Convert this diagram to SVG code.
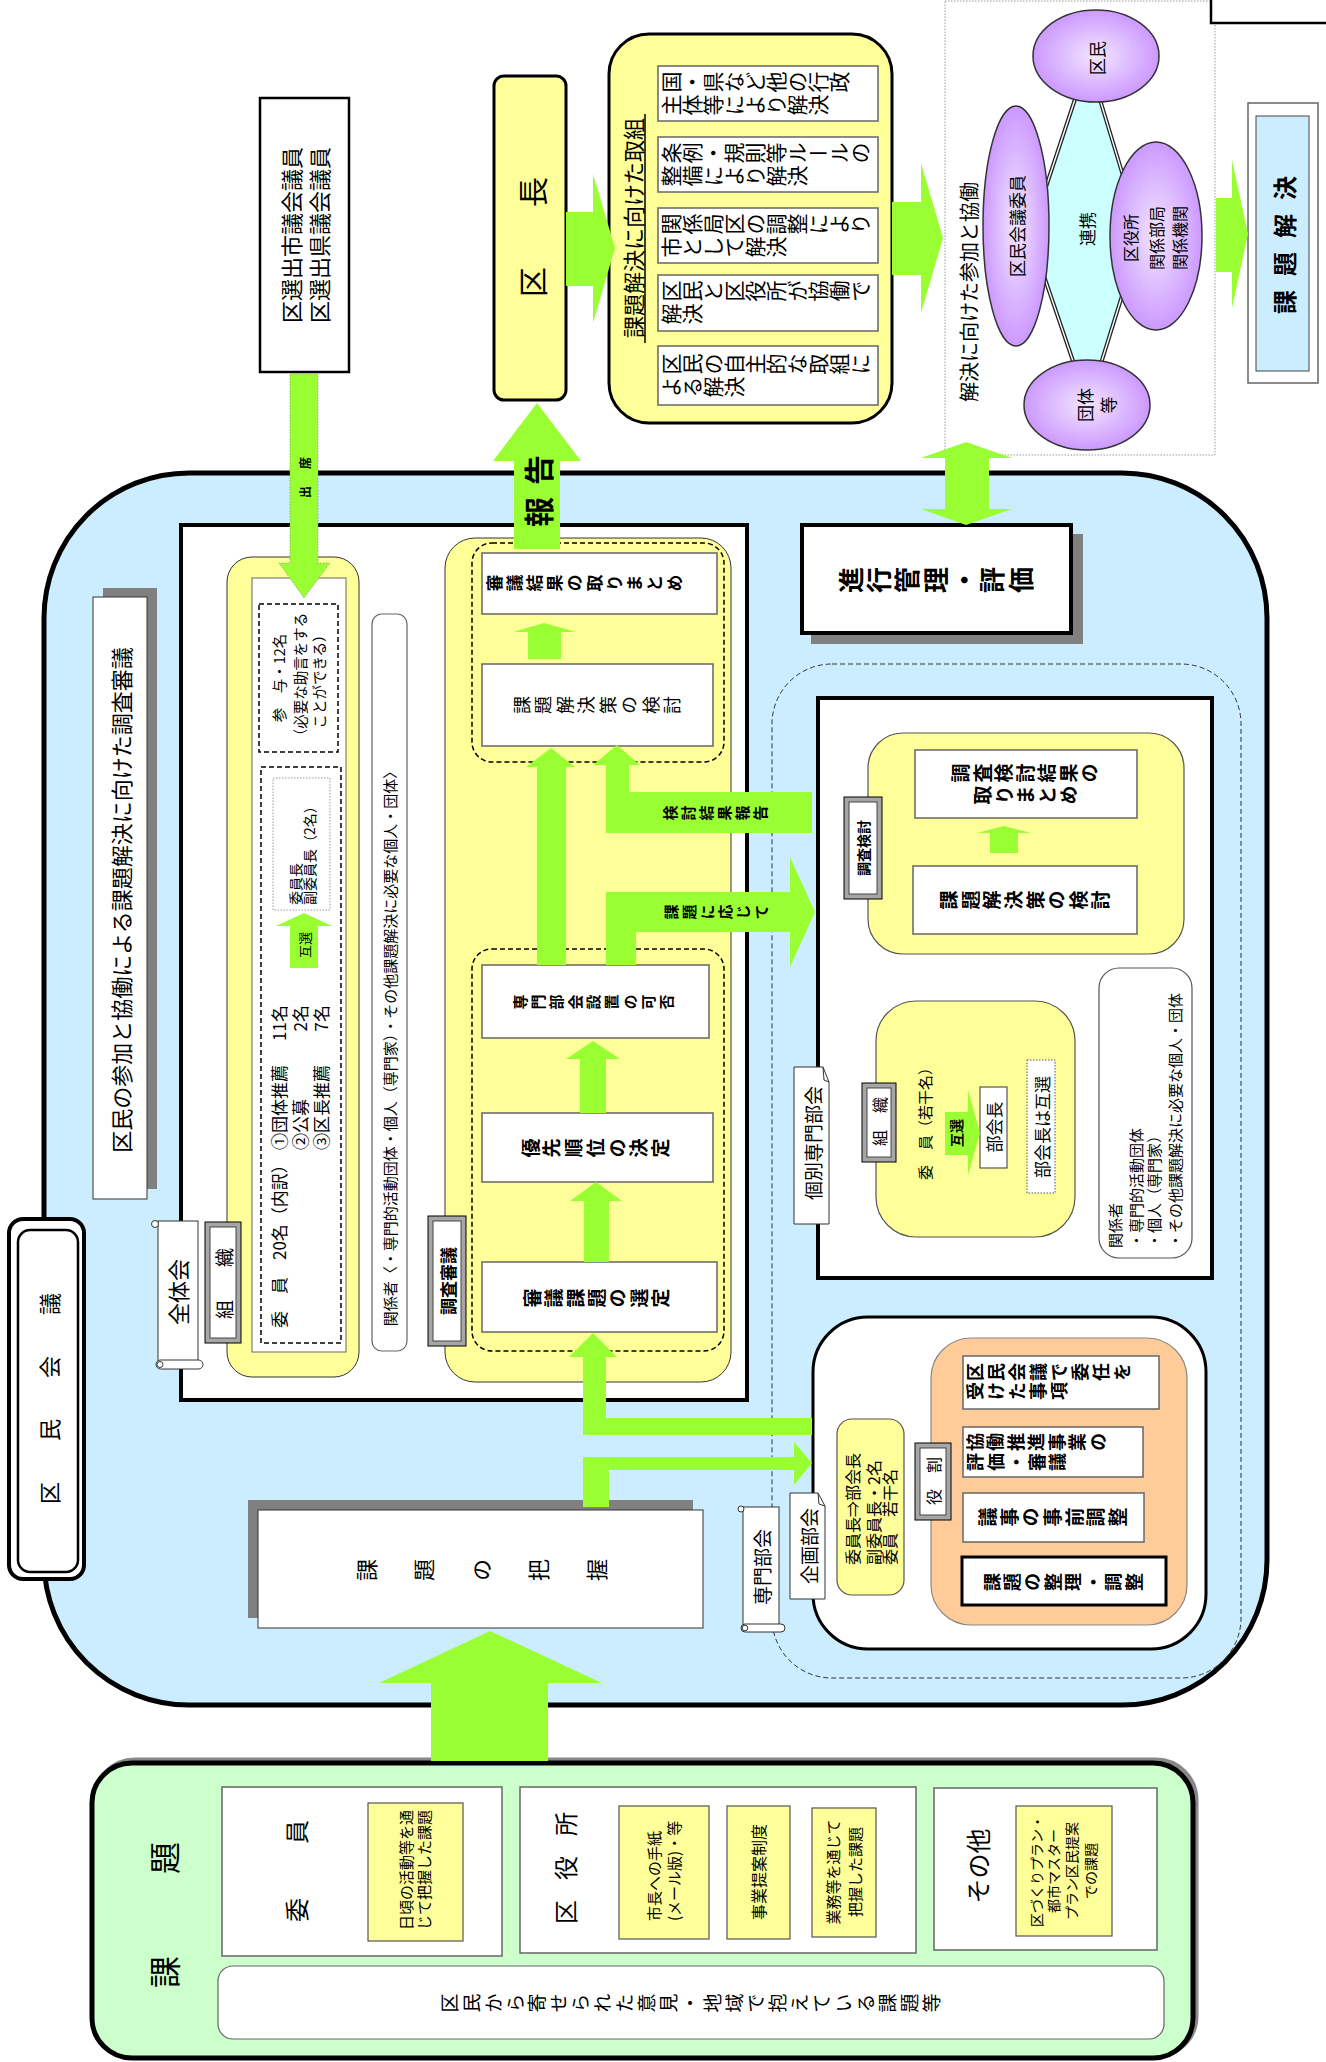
<svg xmlns="http://www.w3.org/2000/svg" width="1326" height="2062" viewBox="0 0 1326 2062">
<defs>
<style>
text{font-family:"Noto Sans CJK JP","Noto Sans CJK SC","Liberation Sans",sans-serif;fill:#000}
.a{text-anchor:middle;dominant-baseline:central}
.as{text-anchor:start;dominant-baseline:central}
.ae{text-anchor:end;dominant-baseline:central}
.b{writing-mode:vertical-rl;text-anchor:middle}
.bs{writing-mode:vertical-rl;text-anchor:start}
.bd{font-weight:bold}
.arrow{fill:#99FF33}
.wbox{fill:#fff;stroke:#666;stroke-width:1.5}
.ybox{fill:#FFFF99;stroke:#555;stroke-width:1.2}
.dash{fill:none;stroke:#000;stroke-width:1.5;stroke-dasharray:5 3}
.bevo{fill:#A6A6A6;stroke:#000;stroke-width:1}
.bevi{fill:#fff;stroke:#444;stroke-width:1}
.ell{fill:url(#pg);stroke:#333;stroke-width:1.5}
.scroll{fill:#fff;stroke:#333;stroke-width:1}
</style>
<radialGradient id="pg" cx="50%" cy="50%" r="50%">
<stop offset="0" stop-color="#F3E6FF"/>
<stop offset="1" stop-color="#CC99FF"/>
</radialGradient>
</defs>
<rect x="0" y="0" width="1326" height="2062" fill="#fff"/>

<!-- top row -->
<g id="n-giin">
<rect x="260" y="98" width="89" height="274" fill="#fff" stroke="#000" stroke-width="2.5"/>
<text class="a" font-size="22" transform="translate(304,235) rotate(-90)"><tspan x="0" y="-14">区選出市議会議員</tspan><tspan x="0" y="14">区選出県議会議員</tspan></text>
</g>
<g id="n-kucho">
<rect x="494" y="76" width="72" height="324" rx="10" fill="#FFFF99" stroke="#000" stroke-width="3"/>
<text class="a" font-size="30" transform="translate(531,237) rotate(-90)">区　　長</text>
</g>
<g id="n-torikumi">
<rect x="609" y="34" width="283" height="389" rx="40" fill="#FFFF99" stroke="#000" stroke-width="3"/>
<text class="a" font-size="22" transform="translate(632,228) rotate(-90)">課題解決に向けた取組</text>
<line x1="645" y1="343" x2="645" y2="114" stroke="#000" stroke-width="1.5"/>
<rect class="wbox" x="658" y="66" width="220" height="55"/>
<text class="bs" font-size="21" transform="translate(661,82) rotate(-90)"><tspan x="0" y="0">国・県など他の行政</tspan><tspan x="-23" y="0">主体等により解決</tspan></text>
<rect class="wbox" x="658" y="137" width="220" height="55"/>
<text class="bs" font-size="21" transform="translate(661,153) rotate(-90)"><tspan x="0" y="0">条例・規則等ルールの</tspan><tspan x="-23" y="0">整備により解決</tspan></text>
<rect class="wbox" x="658" y="208" width="220" height="55"/>
<text class="bs" font-size="21" transform="translate(661,224) rotate(-90)"><tspan x="0" y="0">関係局区の調整により</tspan><tspan x="-23" y="0">市として解決</tspan></text>
<rect class="wbox" x="658" y="275" width="220" height="56"/>
<text class="bs" font-size="21" transform="translate(661,291) rotate(-90)"><tspan x="0" y="0">区民と区役所が協働で</tspan><tspan x="-23" y="0">解決</tspan></text>
<rect class="wbox" x="658" y="346" width="220" height="59"/>
<text class="bs" font-size="21" transform="translate(661,364) rotate(-90)"><tspan x="0" y="0">区民の自主的な取組に</tspan><tspan x="-23" y="0">よる解決</tspan></text>
</g>
<g id="n-sanka">
<rect x="945" y="1" width="270" height="454" fill="#fff" stroke="#999" stroke-width="1" stroke-dasharray="1.5 1.5"/>
<text class="a" font-size="20" transform="translate(968,292) rotate(-90)">解決に向けた参加と協働</text>
<polygon points="1088,60 1030,235 1088,405 1141,235" fill="#CCFFFF" stroke="#222" stroke-width="4"/>
<polygon points="1088,60 1030,235 1088,405 1141,235" fill="none" stroke="#fff" stroke-width="1.4"/>
<ellipse class="ell" cx="1096" cy="56" rx="63" ry="46"/>
<ellipse class="ell" cx="1087" cy="405" rx="63" ry="45"/>
<ellipse class="ell" cx="1016" cy="226" rx="33" ry="120"/>
<ellipse class="ell" cx="1156" cy="236" rx="46" ry="94"/>
<text class="a" font-size="17" transform="translate(1096,58) rotate(-90)">区民</text>
<text class="a" font-size="17" transform="translate(1016,226) rotate(-90)">区民会議委員</text>
<text class="a" font-size="17" transform="translate(1086,229) rotate(-90)">連携</text>
<text class="a" font-size="16" transform="translate(1155,238) rotate(-90)"><tspan x="0" y="-25">区役所</tspan><tspan x="0" y="1">関係部局</tspan><tspan x="0" y="24">関係機関</tspan></text>
<text class="a" font-size="17" transform="translate(1095,405) rotate(-90)"><tspan x="0" y="-11">団体</tspan><tspan x="0" y="12">等</tspan></text>
</g>
<g id="n-kaiketsu">
<rect x="1248" y="103" width="70" height="280" fill="#fff" stroke="#666" stroke-width="1.5"/>
<rect x="1256" y="116" width="53" height="255" fill="#CCECFF" stroke="#444" stroke-width="1"/>
<text class="a bd" font-size="24" letter-spacing="14" transform="translate(1283,238) rotate(-90)">課題解決</text>
</g>
<g id="n-corner">
<rect x="1211" y="-20" width="130" height="43" fill="#fff" stroke="#000" stroke-width="2.5"/>
</g>

<!-- main container -->
<g id="n-kuminkaigi">
<rect x="44" y="473" width="1223" height="1232" rx="145" fill="#CCECFF" stroke="#000" stroke-width="5"/>
</g>
<g id="n-shingi-title">
<rect x="103" y="588" width="54" height="601" fill="#808080"/>
<rect x="93" y="597" width="54" height="602" fill="#fff" stroke="#333" stroke-width="1"/>
<text class="a" font-size="22" transform="translate(120,900) rotate(-90)">区民の参加と協働による課題解決に向けた調査審議</text>
</g>
<g id="n-shingi">
<rect x="181" y="525" width="566" height="875" fill="#fff" stroke="#000" stroke-width="4"/>
</g>
<g id="n-zentaikai">
<rect x="227" y="557" width="132" height="820" rx="25" fill="#FFFF99" stroke="#333" stroke-width="1"/>
<rect x="252" y="578" width="94" height="774" fill="#fff" stroke="#666" stroke-width="1"/>
<rect class="dash" x="259" y="604" width="79" height="148" stroke-width="2" stroke-dasharray="6 4"/>
<text class="a" font-size="14.5" transform="translate(298,678) rotate(-90)"><tspan x="0" y="-20">参　与・12名</tspan><tspan x="0" y="1">（必要な助言をする</tspan><tspan x="0" y="20">ことができる）</tspan></text>
<rect class="dash" x="261" y="767" width="80" height="576" stroke-width="2" stroke-dasharray="6 4"/>
<rect x="273" y="778" width="57" height="132" fill="#fff" stroke="#999" stroke-width="1" stroke-dasharray="1.5 1.5"/>
<text class="as" font-size="14" transform="translate(302,905) rotate(-90)"><tspan x="0" y="-7">委員長</tspan><tspan x="0" y="7">副委員長（2名）</tspan></text>
<text class="as" font-size="17" transform="translate(278,1328) rotate(-90)">委　員　20名（内訳）</text>
<text class="as" font-size="17" transform="translate(278,1150) rotate(-90)">①団体推薦</text>
<text class="ae" font-size="17" transform="translate(278,1005) rotate(-90)">11名</text>
<text class="as" font-size="17" transform="translate(299,1150) rotate(-90)">②公募</text>
<text class="ae" font-size="17" transform="translate(299,1005) rotate(-90)">2名</text>
<text class="as" font-size="17" transform="translate(320,1150) rotate(-90)">③区長推薦</text>
<text class="ae" font-size="17" transform="translate(320,1005) rotate(-90)">7名</text>
</g>
<g id="n-zentaikai-label">
<rect class="scroll" x="158" y="1221" width="40" height="142"/>
<rect class="scroll" x="156" y="1360" width="47" height="9" rx="4.5"/>
<circle class="scroll" cx="160" cy="1364.5" r="3"/>
<circle class="scroll" cx="155" cy="1224" r="3.5"/>
<text class="a" font-size="22" transform="translate(177,1292) rotate(-90)">全体会</text>
</g>
<g id="n-soshiki1">
<rect class="bevo" x="205" y="1222" width="36" height="121"/>
<rect class="bevi" x="210" y="1227" width="26" height="111"/>
<text class="a" font-size="19" letter-spacing="33" transform="translate(223,1267) rotate(-90)">組織</text>
</g>
<g id="n-kankeisha1">
<rect x="372" y="614" width="35" height="737" rx="10" fill="#fff" stroke="#666" stroke-width="1.2"/>
<text class="a" font-size="15" transform="translate(389,1045) rotate(-90)">関係者〈・専門的活動団体・個人（専門家）・その他課題解決に必要な個人・団体〉</text>
</g>
<g id="n-chosashingi">
<rect x="445" y="538" width="286" height="844" rx="30" fill="#FFFF99" stroke="#333" stroke-width="1"/>
<rect class="dash" x="472" y="543" width="252" height="219" rx="20" stroke-width="1.3"/>
<rect class="dash" x="472" y="949" width="252" height="402" rx="20" stroke-width="1.3"/>
<rect class="wbox" x="482" y="553" width="235" height="61"/>
<text class="bs bd" font-size="17" letter-spacing="3" transform="translate(486,583) rotate(-90)">審議結果の取りまとめ</text>
<rect class="wbox" x="482" y="664" width="231" height="82"/>
<text class="b" font-size="18" letter-spacing="3.5" transform="translate(599,705) rotate(-90)">課題解決策の検討</text>
<rect class="wbox" x="482" y="965" width="227" height="73"/>
<text class="b bd" font-size="15" letter-spacing="3.3" transform="translate(595,1002) rotate(-90)">専門部会設置の可否</text>
<rect class="wbox" x="482" y="1113" width="231" height="69"/>
<text class="b bd" font-size="19" letter-spacing="2.7" transform="translate(597,1148) rotate(-90)">優先順位の決定</text>
<rect class="wbox" x="482" y="1262" width="235" height="70"/>
<text class="b bd" font-size="19" letter-spacing="2.4" transform="translate(598,1298) rotate(-90)">審議課題の選定</text>
</g>
<g id="n-chosashingi-label">
<rect class="bevo" x="428" y="1216" width="38" height="130"/>
<rect class="bevi" x="433" y="1221" width="28" height="120"/>
<text class="a bd" font-size="17" transform="translate(447,1281) rotate(-90)">調査審議</text>
</g>
<g id="n-shinko">
<rect x="811" y="534" width="272" height="110" fill="#808080"/>
<rect x="802" y="525" width="269" height="108" fill="#fff" stroke="#000" stroke-width="4"/>
<text class="b bd" font-size="26" letter-spacing="2.3" transform="translate(937,580) rotate(-90)">進行管理・評価</text>
</g>

<!-- senmon bukai -->
<g id="n-senmonbukai">
<rect x="772" y="664" width="469" height="1014" rx="60" fill="none" stroke="#333" stroke-width="1" stroke-dasharray="5 3"/>
</g>
<g id="n-kobetsu">
<rect x="818" y="698" width="394" height="580" fill="#fff" stroke="#000" stroke-width="4"/>
<rect class="ybox" x="868" y="733" width="316" height="221" rx="35"/>
<rect class="wbox" x="915" y="750" width="222" height="68"/>
<text class="b bd" font-size="19" letter-spacing="2.5" transform="translate(1027,0) rotate(-90)"><tspan x="-773" y="0">調査検討結果の</tspan><tspan x="-795" y="0">取りまとめ</tspan></text>
<rect class="wbox" x="913" y="866" width="224" height="68"/>
<text class="b bd" font-size="19" letter-spacing="2.7" transform="translate(1026,900) rotate(-90)">課題解決策の検討</text>
<rect class="ybox" x="876" y="1001" width="199" height="236" rx="40"/>
<text class="a" font-size="15" transform="translate(924,1120) rotate(-90)">委　員（若干名）</text>
<rect x="980" y="1087" width="27" height="81" fill="#fff" stroke="#555" stroke-width="1.2"/>
<text class="a" font-size="17" transform="translate(993,1127) rotate(-90)">部会長</text>
<rect x="1027" y="1060" width="28" height="133" fill="#fff" stroke="#555" stroke-width="1" stroke-dasharray="1.5 1.5"/>
<text class="a" font-size="17" transform="translate(1041,1127) rotate(-90)">部会長は互選</text>
<rect x="1099" y="968" width="93" height="290" rx="20" fill="#fff" stroke="#555" stroke-width="1.2"/>
<text class="as" font-size="15" transform="translate(1144,1248) rotate(-90)"><tspan x="0" y="-30">関係者</tspan><tspan x="0" y="-9">・専門的活動団体</tspan><tspan x="0" y="9">・個人（専門家）</tspan><tspan x="0" y="30">・その他課題解決に必要な個人・団体</tspan></text>
</g>
<g id="n-chosakento-label">
<rect class="bevo" x="844" y="797" width="38" height="102"/>
<rect class="bevi" x="849" y="802" width="28" height="92"/>
<text class="a bd" font-size="14" transform="translate(863,848) rotate(-90)">調査検討</text>
</g>
<g id="n-soshiki2">
<rect class="bevo" x="862" y="1083" width="34" height="79"/>
<rect class="bevi" x="867" y="1088" width="24" height="69"/>
<text class="a" font-size="16" letter-spacing="17" transform="translate(879,1113) rotate(-90)">組織</text>
</g>
<g id="n-kobetsu-label">
<polygon points="794,1067 823,1067 829,1082 829,1224 794,1224" fill="#fff" stroke="#333" stroke-width="1"/>
<polyline points="823,1067 824,1080 829,1082" fill="none" stroke="#333" stroke-width="1"/>
<text class="a" font-size="19" transform="translate(812,1143) rotate(-90)">個別専門部会</text>
</g>
<g id="n-kikaku">
<rect x="813" y="1317" width="393" height="332" rx="55" fill="#fff" stroke="#000" stroke-width="3"/>
<rect x="931" y="1338" width="256" height="287" rx="40" fill="#FFCC99" stroke="#888" stroke-width="1.2"/>
<rect class="wbox" x="963" y="1356" width="196" height="53"/>
<text class="bs bd" font-size="18" letter-spacing="3" transform="translate(966,1372) rotate(-90)"><tspan x="0" y="0">区民会議で委任を</tspan><tspan x="-19" y="0">受けた事項</tspan></text>
<rect class="wbox" x="963" y="1427" width="180" height="50"/>
<text class="bs bd" font-size="18" letter-spacing="2.5" transform="translate(966,1442) rotate(-90)"><tspan x="0" y="0">協働推進事業の</tspan><tspan x="-20" y="0">評価・審議</tspan></text>
<rect class="wbox" x="963" y="1493" width="181" height="49"/>
<text class="b bd" font-size="19" letter-spacing="2.6" transform="translate(1054,1517) rotate(-90)">議事の事前調整</text>
<rect x="962" y="1557" width="204" height="48" fill="#fff" stroke="#000" stroke-width="3"/>
<text class="b bd" font-size="18" letter-spacing="2.3" transform="translate(1064,1582) rotate(-90)">課題の整理・調整</text>
<rect class="ybox" x="837" y="1419" width="67" height="176" rx="15"/>
<text class="as" font-size="16" transform="translate(871,1565) rotate(-90)"><tspan x="0" y="-19">委員長⇒部会長</tspan><tspan x="0" y="2">副委員長・2名</tspan><tspan x="0" y="18">委員　若干名</tspan></text>
</g>
<g id="n-yakuwari-label">
<rect class="bevo" x="915" y="1443" width="36" height="77"/>
<rect class="bevi" x="920" y="1448" width="26" height="67"/>
<text class="a" font-size="16" transform="translate(933,1481) rotate(-90)">役　割</text>
</g>
<g id="n-kikaku-label">
<polygon points="790,1493 818,1493 825,1506 825,1599 790,1599" fill="#fff" stroke="#333" stroke-width="1"/>
<polyline points="818,1493 819,1504 825,1506" fill="none" stroke="#333" stroke-width="1"/>
<text class="a" font-size="19" transform="translate(808,1546) rotate(-90)">企画部会</text>
</g>
<g id="n-senmon-label">
<rect class="scroll" x="743" y="1507" width="36" height="121"/>
<rect class="scroll" x="741" y="1624" width="44" height="8" rx="4"/>
<circle class="scroll" cx="745" cy="1628" r="2.8"/>
<circle class="scroll" cx="741" cy="1509" r="3"/>
<text class="a" font-size="19" transform="translate(761,1567) rotate(-90)">専門部会</text>
</g>
<g id="n-haaku">
<rect x="248" y="1500" width="445" height="118" fill="#808080"/>
<rect x="258" y="1510" width="445" height="118" fill="#fff" stroke="#333" stroke-width="1"/>
<text class="b" font-size="22" letter-spacing="35.5" transform="translate(499,1570) rotate(-90)">課題の把握</text>
</g>
<g id="n-kuminkaigi-label">
<rect x="9" y="1219" width="75" height="360" rx="14" fill="#fff" stroke="#000" stroke-width="4"/>
<rect x="18" y="1230" width="60" height="342" rx="12" fill="#fff" stroke="#000" stroke-width="2.5"/>
<text class="a" font-size="22" letter-spacing="41" transform="translate(48,1378) rotate(-90)">区民会議</text>
</g>

<!-- bottom -->
<g id="n-kadai">
<rect x="95" y="1760" width="1101" height="296" rx="40" fill="none" stroke="#888" stroke-width="5"/>
<rect x="92" y="1763" width="1101" height="295" rx="40" fill="#CCFFCC" stroke="#000" stroke-width="5"/>
<text class="a" font-size="32" letter-spacing="82" transform="translate(163,1874) rotate(-90)">課題</text>
<rect class="wbox" x="222" y="1787" width="280" height="169"/>
<text class="a" font-size="24" letter-spacing="54" transform="translate(295,1844) rotate(-90)">委員</text>
<rect class="ybox" x="368" y="1803" width="95" height="138"/>
<text class="a" font-size="15" transform="translate(414,1870) rotate(-90)"><tspan x="0" y="-9">日頃の活動等を通</tspan><tspan x="0" y="9">じて把握した課題</tspan></text>
<rect class="wbox" x="520" y="1787" width="396" height="166"/>
<text class="a" font-size="24" letter-spacing="20" transform="translate(564,1858) rotate(-90)">区役所</text>
<rect class="ybox" x="619" y="1806" width="90" height="133"/>
<text class="as" font-size="15" transform="translate(663,1921) rotate(-90)"><tspan x="0" y="-10">市長への手紙</tspan><tspan x="0" y="10">(メール版)・等</tspan></text>
<rect class="ybox" x="727" y="1806" width="63" height="133"/>
<text class="a" font-size="16" transform="translate(758,1872) rotate(-90)">事業提案制度</text>
<rect class="ybox" x="812" y="1808" width="64" height="129"/>
<text class="a" font-size="15" transform="translate(843,1872) rotate(-90)"><tspan x="0" y="-11">業務等を通じて</tspan><tspan x="0" y="11">把握した課題</tspan></text>
<rect class="wbox" x="934" y="1788" width="223" height="162"/>
<text class="a" font-size="25" transform="translate(977,1866) rotate(-90)">その他</text>
<rect class="ybox" x="1016" y="1806" width="96" height="130"/>
<text class="a" font-size="14" transform="translate(1063,1871) rotate(-90)"><tspan x="0" y="-27">区づくりプラン・</tspan><tspan x="0" y="-10">都市マスター</tspan><tspan x="0" y="8">プラン区民提案</tspan><tspan x="0" y="27">での課題</tspan></text>
<rect x="218" y="1966" width="946" height="73" rx="15" fill="#fff" stroke="#666" stroke-width="1.2"/>
<text class="b" font-size="19" letter-spacing="2.9" transform="translate(692,2003) rotate(-90)">区民から寄せられた意見・地域で抱えている課題等</text>
</g>

<!-- connectors -->
<g id="connectors">
<polygon class="arrow" points="290,374 318,374 318,563 330,563 304,598 279,563 290,563" stroke="#999" stroke-width="0.8" stroke-dasharray="1.5 1.5"/>
<text class="a bd" font-size="12" letter-spacing="17" transform="translate(304,469) rotate(-90)">出席</text>
<polygon class="arrow" points="514,549 514,461 493,461 537,403 581,461 560,461 560,549"/>
<text class="a bd" font-size="30" letter-spacing="12" transform="translate(537,485) rotate(-90)">報告</text>
<polygon class="arrow" points="566,212 593,212 593,174 615,248 593,323 593,286 566,286"/>
<polygon class="arrow" points="892,202 921,202 921,163 943,238 921,313 921,275 892,275"/>
<polygon class="arrow" points="1216,198 1232,198 1232,160 1248,234 1232,308 1232,272 1216,272"/>
<polygon class="arrow" points="966,442 1012,458 989,458 989,509 1012,509 966,525 921,509 945,509 945,458 921,458"/>
<polygon class="arrow" points="528,659 528,632 513,632 544,623 576,632 561,632 561,659"/>
<polygon class="arrow" points="537,965 537,767 526,767 551,748 575,767 566,767 566,965"/>
<polygon class="arrow" points="617,745 640,765 629,765 629,792 812,792 812,833 606,833 606,765 593,765"/>
<text class="b bd" font-size="15" letter-spacing="3" transform="translate(717,813) rotate(-90)">検討結果報告</text>
<polygon class="arrow" points="606,965 606,892 790,892 790,857 815,912 790,967 790,932 636,932 636,965"/>
<text class="b bd" font-size="15" letter-spacing="3" transform="translate(718,912) rotate(-90)">課題に応じて</text>
<polygon class="arrow" points="580,1113 580,1059 566,1059 593,1041 620,1059 606,1059 606,1113"/>
<polygon class="arrow" points="584,1262 584,1201 570,1201 596,1182 622,1201 609,1201 609,1262"/>
<polygon class="arrow" points="593,1333 617,1357 606,1357 606,1418 812,1418 812,1435 583,1435 583,1357 569,1357"/>
<polygon class="arrow" points="583,1507 583,1457 794,1457 794,1442 812,1463 794,1485 794,1470 609,1470 609,1507"/>
<polygon class="arrow" points="431,1761 431,1683 379,1683 490,1631 602,1683 548,1683 548,1761"/>
<polygon class="arrow" points="290,968 290,926 276,926 304,913 332,926 318,926 318,968"/>
<text class="a" font-size="13" transform="translate(304,945) rotate(-90)">互選</text>
<polygon class="arrow" points="945,1112 968,1112 968,1090 980,1133 968,1175 968,1155 945,1155"/>
<text class="a bd" font-size="14" transform="translate(956,1133) rotate(-90)">互選</text>
<polygon class="arrow" points="990,853 990,833 977,833 1004,826 1031,833 1018,833 1018,853"/>
</g>
</svg>
